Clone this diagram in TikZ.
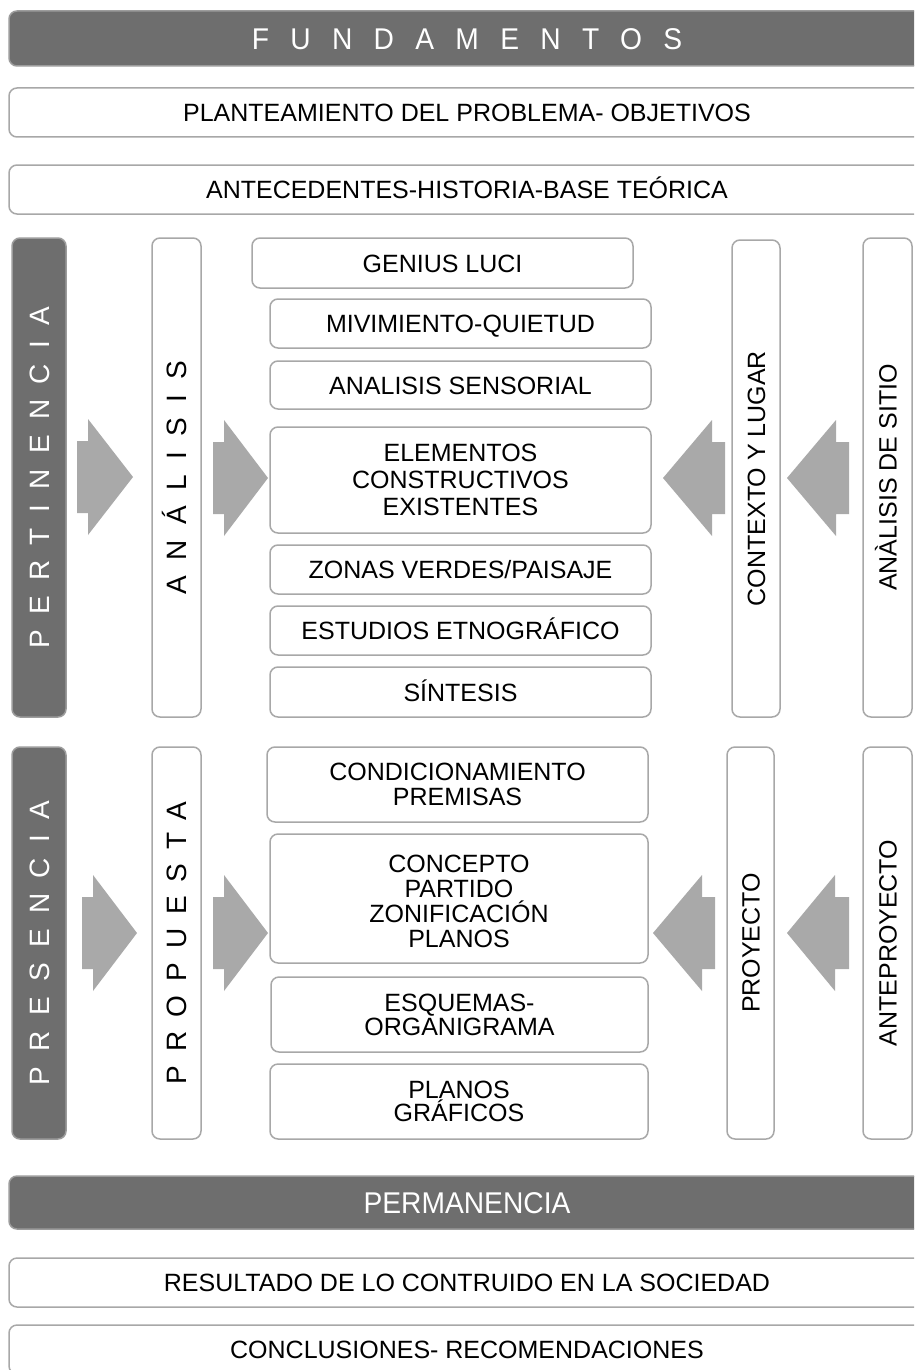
\documentclass[tikz,border=0pt]{standalone}
\usepackage{fontspec}
\setmainfont{Liberation Sans}
\newfontfamily\spacedfont[LetterSpace=55]{Liberation Sans}
\newfontfamily\spacedfontb[LetterSpace=50]{Liberation Sans}
\newfontfamily\fundfont[FakeStretch=0.94,LetterSpace=71]{Liberation Sans}
\newfontfamily\narrowfont[FakeStretch=0.94]{Liberation Sans}
\definecolor{boxgray}{HTML}{A8A8A8}
\definecolor{darkfill}{HTML}{6E6E6E}
\definecolor{darkedge}{HTML}{9C9C9C}
\definecolor{arrowgray}{HTML}{A9A9A9}
\newcommand\blockarrow[4]{%
  \fill[arrowgray] (#1,#4-36) -- (#2,#4-36) -- (#2,#4-58) -- (#3,#4) -- (#2,#4+58) -- (#2,#4+36) -- (#1,#4+36) -- cycle;}
\tikzset{
  box/.style={draw=boxgray, line width=1.5pt, rounded corners=8pt, fill=white,
    align=center, inner sep=0pt, font=\fontsize{25}{25}\selectfont},
  darkbox/.style={box, draw=darkedge, fill=darkfill, text=white},
  oneline/.style={text height=18pt, text depth=0pt},
  vtext/.style={rotate=90},
  sp/.style={font=\spacedfont\fontsize{28}{28}\selectfont, text height=20pt, text depth=0pt},
}
\begin{document}
\begin{tikzpicture}[x=1pt,y=-1pt]
\useasboundingbox (0,0) rectangle (914,1370);
\clip (0,0) rectangle (914,1370);
\fill[white] (0,0) rectangle (914,1370);
% top
\node[darkbox, minimum width=916pt, minimum height=55pt, font=\fundfont\fontsize{30}{30}\selectfont, text height=21.5pt, text depth=0pt] (fund) at (467,38.5) {FUNDAMENTOS};
\node[box, oneline, minimum width=916pt, minimum height=49pt] (plan) at (467,112.5) {PLANTEAMIENTO DEL PROBLEMA- OBJETIVOS};
\node[box, oneline, minimum width=916pt, minimum height=49pt] (ante) at (467,189.5) {ANTECEDENTES-HISTORIA-BASE TEÓRICA};
% pertinencia section
\node[darkbox, sp, vtext, minimum width=479pt, minimum height=54pt] (pert) at (39,477.5) {PERTINENCIA};
\node[box, sp, vtext, minimum width=479pt, minimum height=49pt] (anal) at (176.5,477.5) {ANÁLISIS};
\node[box, oneline, minimum width=381pt, minimum height=50pt] (gen) at (442.5,263) {GENIUS LUCI};
\node[box, oneline, minimum width=381pt, minimum height=49pt] (mov) at (460.5,323.5) {MIVIMIENTO-QUIETUD};
\node[box, oneline, minimum width=381pt, minimum height=48pt] (sens) at (460.5,385) {ANALISIS SENSORIAL};
\node[box, minimum width=381pt, minimum height=106pt, font=\fontsize{25}{27}\selectfont] (elem) at (460.5,480) {ELEMENTOS\\CONSTRUCTIVOS\\EXISTENTES};
\node[box, oneline, minimum width=381pt, minimum height=49pt] (zon) at (460.5,569.5) {ZONAS VERDES/PAISAJE};
\node[box, oneline, minimum width=381pt, minimum height=49pt] (est) at (460.5,630.5) {ESTUDIOS ETNOGRÁFICO};
\node[box, oneline, minimum width=381pt, minimum height=50pt] (sin) at (460.5,692) {SÍNTESIS};
\node[box, oneline, vtext, minimum width=477pt, minimum height=48pt] (ctx) at (756,478.5) {CONTEXTO Y LUGAR};
\node[box, oneline, vtext, minimum width=479pt, minimum height=49pt] (sit) at (887.5,477.5) {ANÀLISIS DE SITIO};
\blockarrow{77}{88}{133}{477}
\blockarrow{213}{224}{268}{478}
\blockarrow{725}{712}{663}{478}
\blockarrow{849}{836}{787}{478}
% presencia section
\node[darkbox, sp, vtext, minimum width=392pt, minimum height=54pt] (pres) at (39,943) {PRESENCIA};
\node[box, sp, vtext, minimum width=392pt, minimum height=49pt, font=\spacedfontb\fontsize{28}{28}\selectfont] (prop) at (176.5,943) {PROPUESTA};
\node[box, minimum width=381pt, minimum height=75pt] (cond) at (457.5,784.5) {CONDICIONAMIENTO\\PREMISAS};
\node[box, minimum width=378pt, minimum height=129pt] (conc) at (459,898.5) {\rule{0pt}{24pt}CONCEPTO\\PARTIDO\\ZONIFICACIÓN\\PLANOS};
\node[box, minimum width=377pt, minimum height=75pt, font=\fontsize{25}{24}\selectfont] (esq) at (459.5,1014.5) {ESQUEMAS-\\ORGANIGRAMA};
\node[box, minimum width=378pt, minimum height=75pt, font=\fontsize{25}{23}\selectfont] (plg) at (459,1101.5) {PLANOS\\GRÁFICOS};
\node[box, oneline, vtext, minimum width=392pt, minimum height=47pt] (proy) at (750.5,943) {PROYECTO};
\node[box, oneline, vtext, minimum width=392pt, minimum height=49pt] (antp) at (887.5,943) {ANTEPROYECTO};
\blockarrow{82}{93}{137}{933}
\blockarrow{213}{224}{268}{933}
\blockarrow{715}{702}{653}{933}
\blockarrow{849}{835}{787}{933}
% bottom
\node[darkbox, minimum width=916pt, minimum height=53pt, font=\narrowfont\fontsize{30}{30}\selectfont, text height=21.5pt, text depth=0pt] (perm) at (467,1202.5) {PERMANENCIA};
\node[box, oneline, minimum width=916pt, minimum height=49pt] (res) at (467,1282.5) {RESULTADO DE LO CONTRUIDO EN LA SOCIEDAD};
\node[box, oneline, minimum width=916pt, minimum height=49pt] (concl) at (467,1349.5) {CONCLUSIONES- RECOMENDACIONES};
\end{tikzpicture}
\end{document}
